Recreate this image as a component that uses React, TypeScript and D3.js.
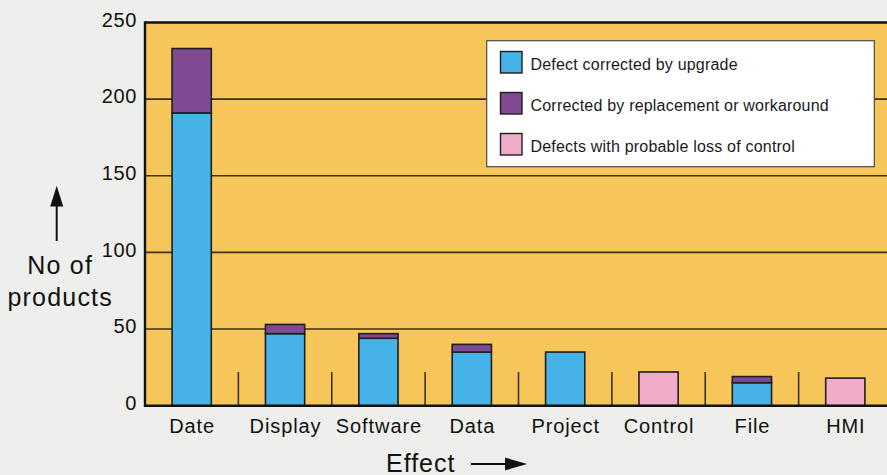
import React from "react";
import * as d3 from "d3";

const categories = ["Date", "Display", "Software", "Data", "Project", "Control", "File", "HMI"];
const upgrade = [191, 47, 44, 35, 35, 0, 15, 0];
const replacement = [42, 6, 3, 5, 0, 0, 4, 0];
const lossOfControl = [0, 0, 0, 0, 0, 22, 0, 18];
const seriesNames = [
  "Defect corrected by upgrade",
  "Corrected by replacement or workaround",
  "Defects with probable loss of control",
];
const yTicks = [0, 50, 100, 150, 200, 250];

const W = 887;
const H = 475;
const colors = ["#45B3E7", "#7F4A92", "#F0ABC8"];
const FONT = "'Liberation Sans', Arial, Helvetica, sans-serif";

export default function App() {
  const left = 145;
  const top = 22.5;
  const bottom = 405.7;
  const x = d3
    .scaleBand<string>()
    .domain(categories)
    .range([left, left + 8 * 93.375])
    .paddingInner(0.58)
    .paddingOuter(0.29);
  const y = d3.scaleLinear().domain([0, 250]).range([bottom, top]);

  const rows = categories.map((c, i) => ({
    cat: c,
    upgrade: upgrade[i],
    replacement: replacement[i],
    loss: lossOfControl[i],
  }));
  const stack = d3.stack<any>().keys(["upgrade", "replacement", "loss"]);
  const layers = stack(rows);

  const step = x.step();
  const separators = categories.slice(1).map((c) => (x(c) as number) - (x.paddingInner() * step) / 2);

  return (
    <svg
      width={W}
      height={H}
      style={{ position: "fixed", left: 0, top: 0, display: "block" }}
      fontFamily={FONT}
    >
      <rect x={0} y={0} width={W} height={H} fill="#EEEFEC" />
      <rect x={left} y={top} width={W - left} height={bottom - top} fill="#F6C65B" />
      {yTicks
        .filter((t) => t > 0 && t < 250)
        .map((t) => (
          <line key={t} x1={left} x2={W} y1={y(t)} y2={y(t)} stroke="#3a3118" strokeWidth={1.6} />
        ))}
      {separators.map((sx, i) => (
        <line key={i} x1={sx} x2={sx} y1={372} y2={bottom} stroke="#2e2a1c" strokeWidth={1.5} />
      ))}
      {layers.map((layer, li) =>
        layer.map((d, i) => {
          const h = y(d[0]) - y(d[1]);
          if (h <= 0) return null;
          return (
            <rect
              key={li + "-" + i}
              x={x(categories[i])}
              y={y(d[1])}
              width={x.bandwidth()}
              height={h}
              fill={colors[li]}
              stroke="#1e1e1e"
              strokeWidth={1.6}
            />
          );
        })
      )}
      {/* legend */}
      <rect x={486.7} y={40.7} width={387.6} height={126} fill="#FFFFFF" stroke="#4a4a4a" strokeWidth={1.2} />
      {seriesNames.map((n, i) => (
        <g key={n} transform={`translate(0, ${i * 41})`}>
          <rect x={500.5} y={51.5} width={21.5} height={21.5} fill={colors[i]} stroke="#1e1e1e" strokeWidth={1.4} />
          <text x={530.5} y={69.8} fontSize={16} letterSpacing={0.2} fill="#1a1a1a">
            {n}
          </text>
        </g>
      ))}
      {/* axes */}
      <line x1={left} x2={W} y1={top} y2={top} stroke="#111" strokeWidth={2.4} />
      <line x1={left} x2={W} y1={bottom} y2={bottom} stroke="#111" strokeWidth={2.4} />
      <line x1={left} x2={left} y1={top - 1.2} y2={bottom + 1.2} stroke="#111" strokeWidth={2.4} />
      {yTicks.map((t) => (
        <text key={t} x={137} y={y(t) + 4.2} textAnchor="end" fontSize={20} letterSpacing={0.6} fill="#111">
          {t}
        </text>
      ))}
      {categories.map((c) => (
        <text
          key={c}
          x={(x(c) as number) + x.bandwidth() / 2 + 0.5}
          y={432.5}
          textAnchor="middle"
          fontSize={20}
          letterSpacing={0.9}
          fill="#111"
        >
          {c}
        </text>
      ))}
      {/* y title */}
      <line x1={56.7} x2={56.7} y1={241} y2={200} stroke="#111" strokeWidth={2} />
      <path d="M56.7,185.7 L50.2,206.5 L63.2,206.5 Z" fill="#111" />
      <text x={60.2} y={274.3} textAnchor="middle" fontSize={25} letterSpacing={1.2} fill="#111">
        No of
      </text>
      <text x={60.2} y={305.7} textAnchor="middle" fontSize={25} letterSpacing={1.2} fill="#111">
        products
      </text>
      {/* x title */}
      <text x={386} y={472.3} fontSize={25} letterSpacing={1} fill="#111">
        Effect
      </text>
      <line x1={471} x2={510} y1={464} y2={464} stroke="#111" strokeWidth={2} />
      <path d="M527,464 L505,457.5 L505,470.5 Z" fill="#111" />
    </svg>
  );
}
